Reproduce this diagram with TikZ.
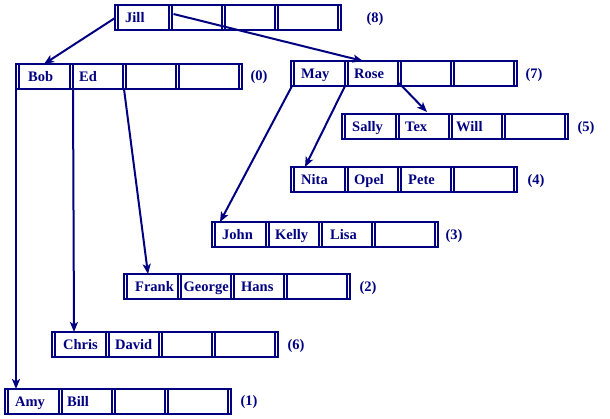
\documentclass[tikz,border=0pt]{standalone}
\usepackage{fontspec}
\setmainfont{Liberation Serif}
\usetikzlibrary{arrows.meta,calc}
\definecolor{navy}{RGB}{0,0,128}
\newcommand{\bbox}[3]{%
  \node[bbox] (#1) at (#2,#3) {};
  \foreach \o in {3,54,57,107,110,160,163,223}
    \draw[dl] ([xshift=\o pt]#1.north west) -- ([xshift=\o pt]#1.south west);
}
\begin{document}
\begin{tikzpicture}[x=1pt,y=-1pt,
  bbox/.style={draw=navy,line width=2pt,rectangle,anchor=north west,minimum width=226pt,minimum height=25pt,inner sep=0pt,outer sep=0pt},
  dl/.style={navy,line width=1.5pt},
  key/.style={anchor=base west,inner sep=0pt,text=navy,font=\fontsize{14.5}{15}\selectfont\bfseries},
  lab/.style={anchor=base,inner sep=0pt,text=navy,font=\fontsize{14.5}{15}\selectfont\bfseries},
  arr/.style={draw=navy,line width=2pt,-{Stealth[length=10pt,width=8pt,inset=2.5pt]}}]
\useasboundingbox (0,0) rectangle (610,418);
% boxes
\bbox{jill}{115}{5}
\bbox{bob}{16}{64}
\bbox{may}{291}{61}
\bbox{sally}{342}{114}
\bbox{nita}{291}{167}
\bbox{john}{212}{222}
\bbox{frank}{124}{274}
\bbox{chris}{52}{332}
\bbox{amy}{5}{389}
% keys
\node[key] (jill-1) at ([xshift=10pt,yshift=-17pt]jill.north west) {Jill};
\node[key] (bob-1) at ([xshift=12pt,yshift=-17pt]bob.north west) {Bob};
\node[key] (bob-2) at ([xshift=63pt,yshift=-17pt]bob.north west) {Ed};
\node[key] (may-1) at ([xshift=10pt,yshift=-17pt]may.north west) {May};
\node[key] (may-2) at ([xshift=63pt,yshift=-17pt]may.north west) {Rose};
\node[key] (sally-1) at ([xshift=10pt,yshift=-17pt]sally.north west) {Sally};
\node[key] (sally-2) at ([xshift=63pt,yshift=-17pt]sally.north west) {Tex};
\node[key] (sally-3) at ([xshift=114pt,yshift=-17pt]sally.north west) {Will};
\node[key] (nita-1) at ([xshift=10pt,yshift=-17pt]nita.north west) {Nita};
\node[key] (nita-2) at ([xshift=63pt,yshift=-17pt]nita.north west) {Opel};
\node[key] (nita-3) at ([xshift=117pt,yshift=-17pt]nita.north west) {Pete};
\node[key] (john-1) at ([xshift=10pt,yshift=-17pt]john.north west) {John};
\node[key] (john-2) at ([xshift=63pt,yshift=-17pt]john.north west) {Kelly};
\node[key] (john-3) at ([xshift=118pt,yshift=-17pt]john.north west) {Lisa};
\node[key] (frank-1) at ([xshift=11pt,yshift=-17pt]frank.north west) {Frank};
\node[key] (frank-2) at ([xshift=59.5pt,yshift=-17pt]frank.north west) {George};
\node[key] (frank-3) at ([xshift=117pt,yshift=-17pt]frank.north west) {Hans};
\node[key] (chris-1) at ([xshift=11pt,yshift=-17pt]chris.north west) {Chris};
\node[key] (chris-2) at ([xshift=63pt,yshift=-17pt]chris.north west) {David};
\node[key] (amy-1) at ([xshift=10pt,yshift=-17pt]amy.north west) {Amy};
\node[key] (amy-2) at ([xshift=62pt,yshift=-17pt]amy.north west) {Bill};
% labels
\node[lab] (jill-l) at (375,22) {(8)};
\node[lab] (bob-l) at (259,80) {(0)};
\node[lab] (may-l) at (534,78) {(7)};
\node[lab] (sally-l) at (586,131) {(5)};
\node[lab] (nita-l) at (536,184) {(4)};
\node[lab] (john-l) at (454,239) {(3)};
\node[lab] (frank-l) at (368,291) {(2)};
\node[lab] (chris-l) at (296,349) {(6)};
\node[lab] (amy-l) at (249,405) {(1)};
% pointers
\draw[arr] ([yshift=-13pt]jill.north west) -- ([xshift=28pt]bob.north west);
\draw[arr] ([xshift=58.5pt,yshift=-9pt]jill.north west) -- ([xshift=72pt]may.north west);
\draw[arr] (bob.south west) -- (bob.south west |- amy.north);
\draw[arr] ([xshift=57pt]bob.south west) -- ([xshift=22pt]chris.north west);
\draw[arr] ([xshift=108pt]bob.south west) -- ([xshift=24pt]frank.north west);
\draw[arr] ([xshift=1pt]may.south west) -- ([xshift=8pt]john.north west);
\draw[arr] ([xshift=54pt]may.south west) -- ([xshift=14pt]nita.north west);
\draw[arr] ([xshift=108pt,yshift=3pt]may.south west) -- ([xshift=85pt,yshift=2pt]sally.north west);
\end{tikzpicture}
\end{document}
